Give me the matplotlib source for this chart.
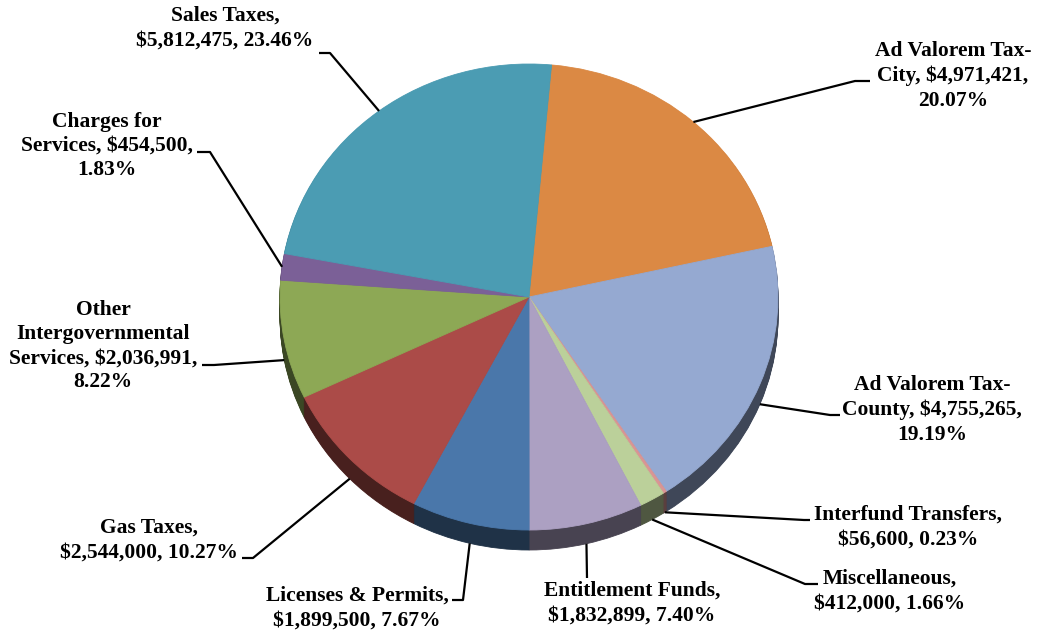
import numpy as np
import matplotlib
matplotlib.use("Agg")
import matplotlib.pyplot as plt
import matplotlib.colors as mcolors

# slices, clockwise from the top
names = ["Ad Valorem Tax-City", "Ad Valorem Tax-County", "Interfund Transfers",
         "Miscellaneous", "Entitlement Funds", "Licenses & Permits", "Gas Taxes",
         "Other Intergovernmental Services", "Charges for Services", "Sales Taxes"]
amounts = [4971421, 4755265, 56600, 412000, 1832899, 1899500, 2544000,
           2036991, 454500, 5812475]
label_fmt = ["Ad Valorem Tax-\nCity, {a},\n{p}",
             "Ad Valorem Tax-\nCounty, {a},\n{p}",
             "Interfund Transfers,\n{a}, {p}",
             "Miscellaneous,\n{a}, {p}",
             "Entitlement Funds,\n{a}, {p}",
             "Licenses & Permits,\n{a}, {p}",
             "Gas Taxes,\n{a}, {p}",
             "Other\nIntergovernmental\nServices, {a},\n{p}",
             "Charges for\nServices, {a},\n{p}",
             "Sales Taxes,\n{a}, {p}"]
colors = ["#DB8944", "#95A9D1", "#D99594", "#BBD09A", "#ACA0C2",
          "#4A77AA", "#AB4B48", "#8DA855", "#7B6097", "#4B9CB3"]

# layout in pixels
W, H = 1037, 630
CX, CY, RX, RY, DEPTH = 529, 297, 249, 233, 20
# label centre, elbow point, end of short horizontal tick
text_pos = [(953, 76), (932, 410), (908, 527), (890, 591), (632, 603),
            (357, 608), (149, 540), (103, 346), (107, 146), (225, 28)]
elbows = [(855, 81), (830, 415), (804, 520), (805, 584), (587, 578),
          (463, 600), (253, 558), (214, 365), (210, 152), (330, 53)]
ends = [(870, 81), (840, 415), (810, 520), (818, 584), None,
        (452, 600), (242, 558), (202, 365), (197, 152), (319, 53)]


def to_data(px, py):
    return ((px - CX) / RX, (CY - py) / RY)


fig = plt.figure(figsize=(W / 100, H / 100), dpi=100)
ax = fig.add_axes([0, 0, 1, 1])

total = sum(amounts)
side_colors = [tuple(c * 0.42 for c in mcolors.to_rgb(col)) for col in colors]

# side wall: stacked darker copies
for k in range(DEPTH, 0, -1):
    sw, _ = ax.pie(amounts, colors=side_colors, startangle=84.8, counterclock=False,
                   radius=1, center=(0, -k / RY), wedgeprops=dict(linewidth=0.6))
    for w, c in zip(sw, side_colors):
        w.set_edgecolor(c)

wedges, _ = ax.pie(amounts, colors=colors, startangle=84.8, counterclock=False,
                   radius=1, center=(0, 0), wedgeprops=dict(linewidth=0.6))
for w, c in zip(wedges, colors):
    w.set_edgecolor(c)

for i, w in enumerate(wedges):
    mid = np.deg2rad((w.theta1 + w.theta2) / 2)
    ax_x, ax_y = np.cos(mid), np.sin(mid)
    if ax_y < 0:
        ax_y -= DEPTH / RY
    pts = [(ax_x, ax_y), to_data(*elbows[i])]
    if ends[i] is not None:
        pts.append(to_data(*ends[i]))
    xs, ys = zip(*pts)
    ax.plot(xs, ys, color="black", lw=1.6, solid_capstyle="butt", zorder=5)

    pct = amounts[i] / total * 100
    txt = label_fmt[i].format(a=f"${amounts[i]:,}", p=f"{pct:.2f}%")
    tx, ty = to_data(*text_pos[i])
    ax.text(tx, ty, txt, ha="center", va="center", multialignment="center",
            fontsize=15.5, fontweight="bold", family="Liberation Serif",
            linespacing=1.28, zorder=6)

ax.set_xlim(-CX / RX, (W - CX) / RX)
ax.set_ylim(-(H - CY) / RY, CY / RY)
ax.set_aspect("auto")
ax.axis("off")

fig.savefig("out.png", dpi=100)
